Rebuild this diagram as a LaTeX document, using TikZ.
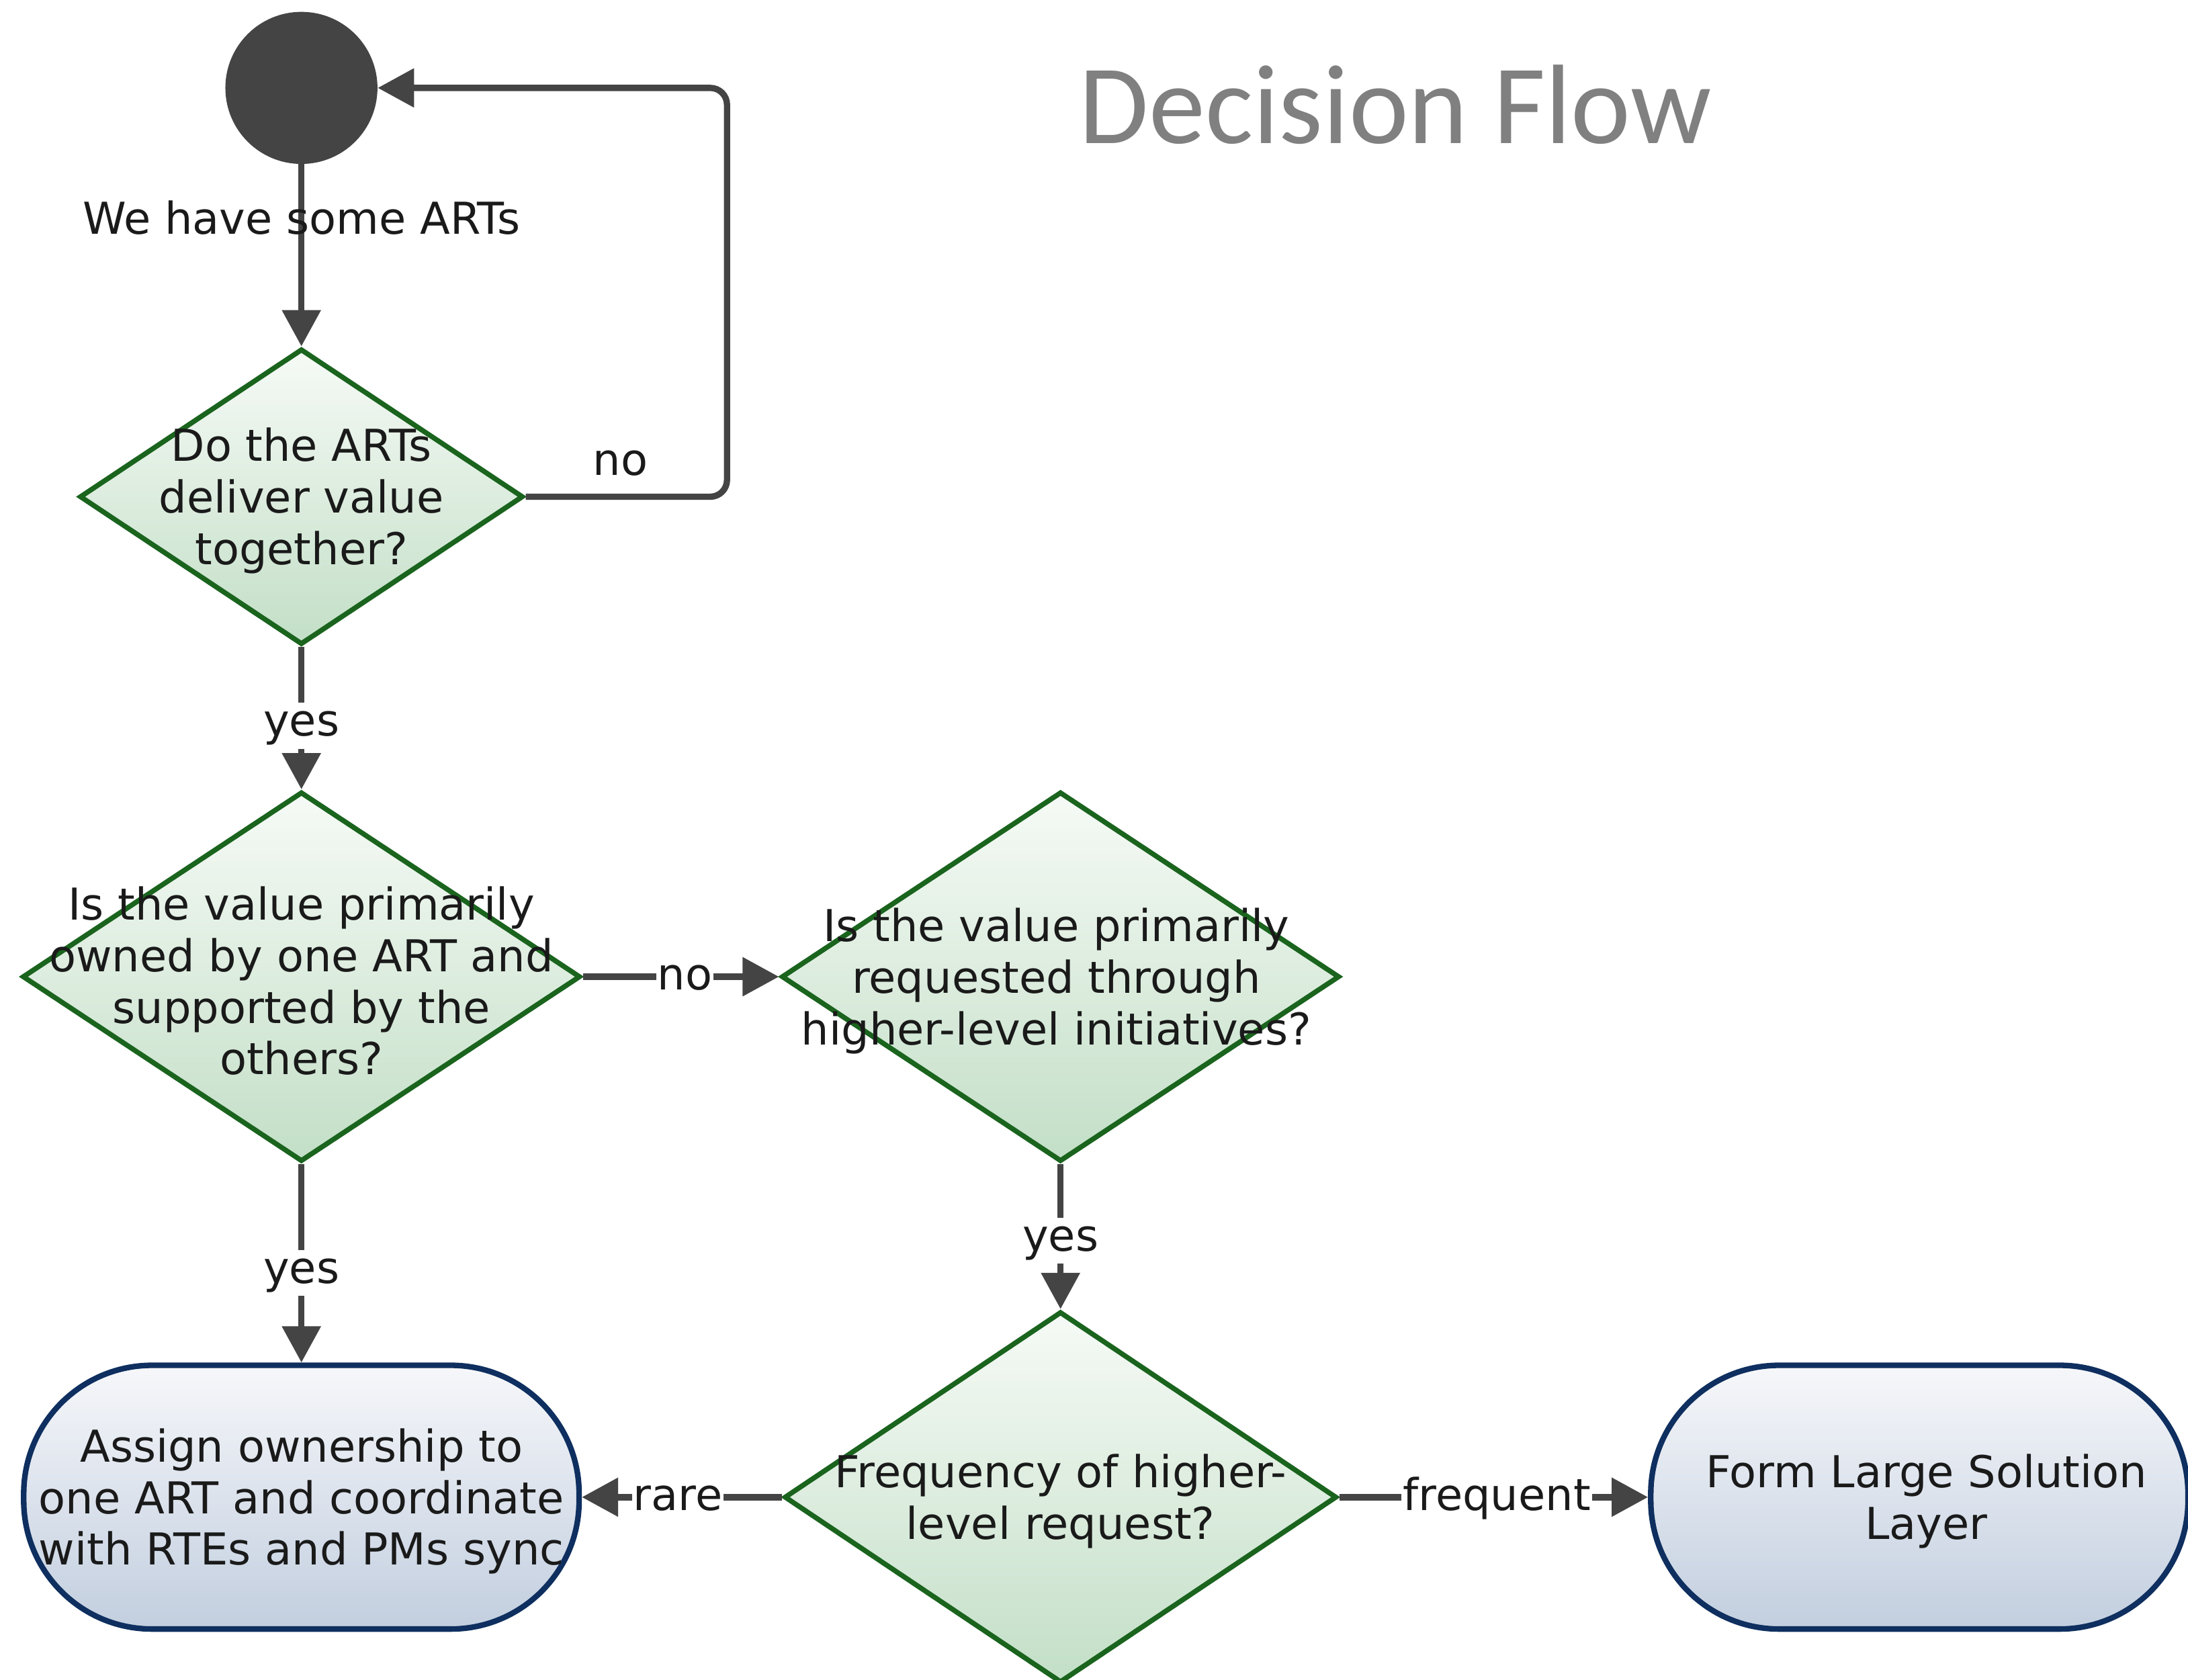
\documentclass[tikz,border=0pt]{standalone}
\usepackage{fontspec}
\setmainfont{DejaVu Sans}
\newfontfamily\titlefont{Carlito}
\usetikzlibrary{shapes.geometric,arrows.meta,calc}
\definecolor{arrowgrey}{HTML}{444444}
\definecolor{decborder}{HTML}{1A641E}
\definecolor{dectop}{HTML}{F6FAF6}
\definecolor{decbot}{HTML}{C3DFC7}
\definecolor{termborder}{HTML}{0E2F5F}
\definecolor{termtop}{HTML}{F6F7FA}
\definecolor{termbot}{HTML}{C2CEDF}
\definecolor{txtcol}{HTML}{1A1A1A}
\definecolor{titlegrey}{HTML}{808080}
\begin{document}
\begin{tikzpicture}[x=1pt,y=-1pt,
  decision/.style={diamond, draw=decborder, line width=3.6pt, top color=dectop, bottom color=decbot, inner sep=0pt},
  terminal/.style={rectangle, rounded corners=92pt, draw=termborder, line width=4pt, top color=termtop, bottom color=termbot, inner sep=0pt, minimum height=189pt},
  txt/.style={align=center, text=txtcol, font=\fontsize{31.5}{37}\selectfont, inner sep=0pt, yshift=-3pt},
  lbl/.style={text=txtcol, font=\fontsize{31.5}{37}\selectfont, text height=23pt, text depth=8pt, inner sep=1pt, yshift=-2pt},
  lblw/.style={lbl, fill=white},
  arr/.style={draw=arrowgrey, line width=4.5pt, -{Triangle[length=26pt,width=27pt]}},
]
\path[use as bounding box] (0,0) rectangle (1568,1204);
\clip (0,0) rectangle (1568,1204);

% title
\node[font=\titlefont\fontsize{81}{97}\selectfont, text=titlegrey, anchor=base, inner sep=0pt] (title) at (1000,103) {Decision Flow};

% nodes
\node[circle, fill=arrowgrey, minimum size=109pt, inner sep=0pt] (start) at (216,63) {};
\node[decision, minimum width=318pt, minimum height=212pt,
  label={[txt]center:{Do the ARTs\\deliver value\\together?}}] (d1) at (216,356) {};
\node[decision, minimum width=400pt, minimum height=265pt,
  label={[txt]center:{Is the value primarily\\owned by one ART and\\supported by the\\others?}}] (d2) at (216,700) {};
\node[decision, minimum width=400pt, minimum height=265pt,
  label={[txt, xshift=-3pt]center:{Is the value primarily\\requested through\\higher-level initiatives?}}] (d3) at (760,700) {};
\node[decision, minimum width=396pt, minimum height=266pt,
  label={[txt]center:{Frequency of higher-\\level request?}}] (d4) at (760,1073) {};
\node[terminal, minimum width=398pt,
  label={[txt]center:{Assign ownership to\\one ART and coordinate\\with RTEs and PMs sync}}] (t1) at (216,1073) {};
\node[terminal, minimum width=385pt,
  label={[txt, xshift=5pt]center:{Form Large Solution\\Layer}}] (t2) at (1375.5,1073) {};

% connectors
\coordinate (loopx) at (521,0);
\draw[arr] (start) -- node[lbl, pos=0.31] {We have some ARTs} (d1);
\draw[arr, rounded corners=12pt] (d1.east) -- node[lbl, pos=0.47, yshift=25pt] {no} (d1.east -| loopx) -- (start.east -| loopx) -- (start.east);
\draw[arr] (d1) -- node[lblw, pos=0.533] {yes} (d2);
\draw[arr] (d2) -- node[lblw, pos=0.52] {no} (d3);
\draw[arr] (d2) -- node[lblw, pos=0.534] {yes} (t1);
\draw[arr] (d3) -- node[lblw, pos=0.51] {yes} (d4);
\draw[arr] (d4) -- node[lblw, pos=0.52] {rare} (t1);
\draw[arr] (d4) -- node[lblw, pos=0.51] {frequent} (t2);
\end{tikzpicture}
\end{document}
